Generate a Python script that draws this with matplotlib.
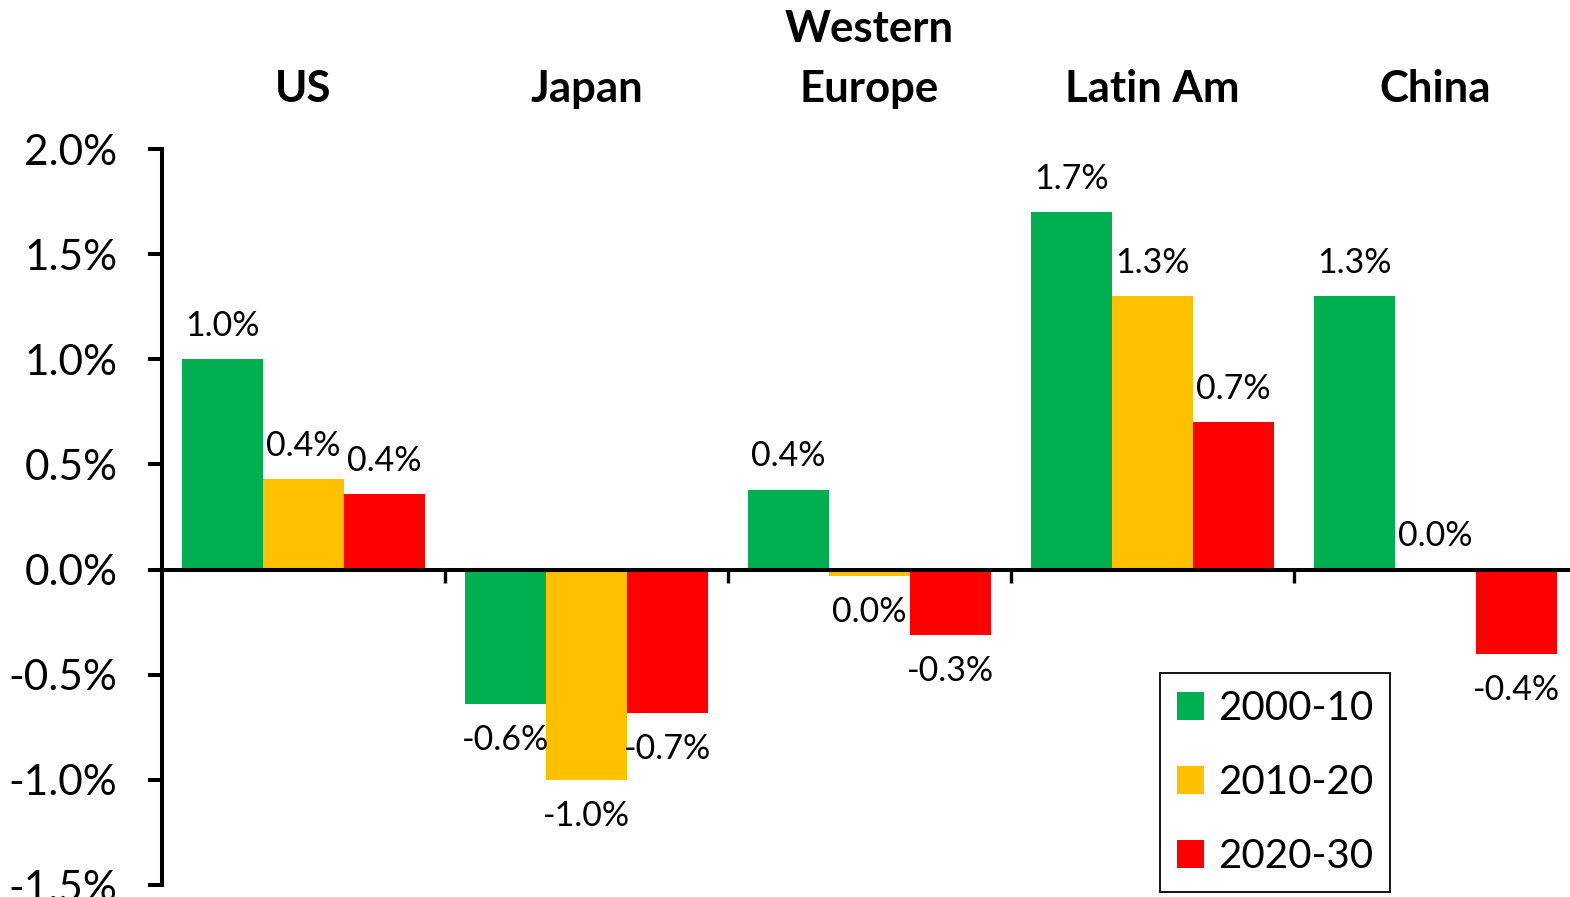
import matplotlib
matplotlib.use('Agg')
import matplotlib.pyplot as plt
import matplotlib.transforms as mtransforms
import numpy as np
from matplotlib.ticker import FuncFormatter

regions = ['US', 'Japan', 'Western\nEurope', 'Latin Am', 'China']
periods = ['2000-10', '2010-20', '2020-30']
growth_2000_10 = [1.00, -0.64, 0.38, 1.70, 1.30]
growth_2010_20 = [0.43, -1.00, -0.03, 1.30, 0.00]
growth_2020_30 = [0.36, -0.68, -0.31, 0.70, -0.40]
bar_colors = ['#00B050', '#FFC000', '#FF0000']
y_ticks = [-1.5, -1.0, -0.5, 0.0, 0.5, 1.0, 1.5, 2.0]


def pct_label(v):
    s = '{:.1f}%'.format(v)
    # no "-0.0%" for tiny negatives
    if s == '-0.0%':
        s = '0.0%'
    return s


def main():
    plt.rcParams['font.family'] = ['Lato', 'DejaVu Sans']

    W, H = 1570, 897
    fig = plt.figure(figsize=(W / 100, H / 100), dpi=100)
    # axes run slightly past the right edge, like the source slide
    ax = fig.add_axes([162 / W, 12 / H, 1415 / W, 736 / H])

    x = np.arange(len(regions))
    width = 0.286
    series = [growth_2000_10, growth_2010_20, growth_2020_30]
    for i, (vals, name, c) in enumerate(zip(series, periods, bar_colors)):
        pos = x + (i - 1) * width
        ax.bar(pos, vals, width, color=c, label=name, zorder=2)
        for px, v in zip(pos, vals):
            off = 24 if v >= 0 else -26
            ax.annotate(pct_label(v), (px, v), xytext=(0, off),
                        textcoords='offset points', ha='center', va='center',
                        fontsize=24.5, color='black')

    ax.set_xlim(-0.5, 4.5)
    ax.set_ylim(-1.5, 2.0)

    ax.spines['top'].set_visible(False)
    ax.spines['right'].set_visible(False)
    ax.spines['bottom'].set_position(('data', 0))
    ax.spines['left'].set_linewidth(2.9)
    ax.spines['bottom'].set_linewidth(2.9)
    ax.spines['bottom'].set_zorder(3)

    ax.set_yticks(y_ticks)
    ax.yaxis.set_major_formatter(FuncFormatter(lambda v, p: '{:.1f}%'.format(v)))
    ax.tick_params(axis='y', direction='out', length=10, width=2.9,
                   labelsize=30.5, pad=22)

    # boundary ticks between the region groups
    ax.set_xticks(np.arange(0.5, len(regions), 1.0))
    ax.tick_params(axis='x', direction='out', length=9.5, width=2.4,
                   labelbottom=False)

    trans = mtransforms.blended_transform_factory(ax.transData, fig.transFigure)
    for xi, name in zip(x, regions):
        ax.text(xi, 1 - 109 / H, name, transform=trans, ha='center',
                va='bottom', fontsize=31.5, fontweight='bold', linespacing=1.62)

    leg = fig.legend(loc='upper left', bbox_to_anchor=(1160 / W, 1 - 673 / H),
                     fontsize=29, frameon=True, fancybox=False,
                     edgecolor='black', framealpha=1, borderaxespad=0,
                     handlelength=0.68, handleheight=0.68, handletextpad=0.34,
                     labelspacing=0.92, borderpad=0.42)
    leg.get_frame().set_linewidth(1.3)

    fig.savefig('out.png', dpi=100)


if __name__ == "__main__":
    main()
